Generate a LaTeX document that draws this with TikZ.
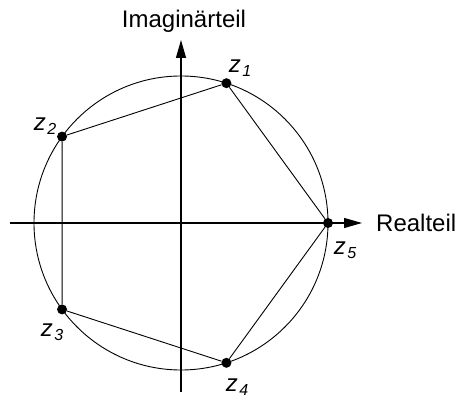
\documentclass[tikz,border=0pt]{standalone}
\usepackage{fontspec}
\setmainfont{Liberation Sans}
\usetikzlibrary{arrows.meta}
\newcommand{\zlab}[1]{\textit{z\kern1.5pt\raisebox{-4pt}{\fontsize{16}{16}\selectfont #1}}}
\begin{document}
\begin{tikzpicture}[x=1pt,y=1pt,
    pt/.style={circle,fill=black,inner sep=0pt,minimum size=10pt},
    axis/.style={line width=1.1pt,-{Triangle[length=18pt,width=10pt]}},
    lab/.style={font=\fontsize{24}{28}\selectfont,inner sep=0pt}]
    \useasboundingbox (-181,-175) rectangle (277,223);
    \draw[line width=0.9pt] (0,0) circle (147);
    \draw[axis] (-171,0) -- (181,0) coordinate (re);
    \draw[axis] (0,-169) -- (0,183) coordinate (im);
    \node[lab,anchor=west] (relab) at (195,0) {Realteil};
    \node[lab] (imlab) at (3,202) {Imaginärteil};
    \node[pt] (z1) at (72:147) {};
    \node[pt] (z2) at (144:147) {};
    \node[pt] (z3) at (216:147) {};
    \node[pt] (z4) at (288:147) {};
    \node[pt] (z5) at (0:147) {};
    \draw[line width=0.9pt] (z1)--(z2)--(z3)--(z4)--(z5)--(z1);
    \node[lab] (l1) at (59,155) {\zlab{1}};
    \node[lab] (l2) at (-136,97) {\zlab{2}};
    \node[lab] (l3) at (-129,-109) {\zlab{3}};
    \node[lab] (l4) at (56,-164) {\zlab{4}};
    \node[lab] (l5) at (164,-27) {\zlab{5}};
\end{tikzpicture}
\end{document}
